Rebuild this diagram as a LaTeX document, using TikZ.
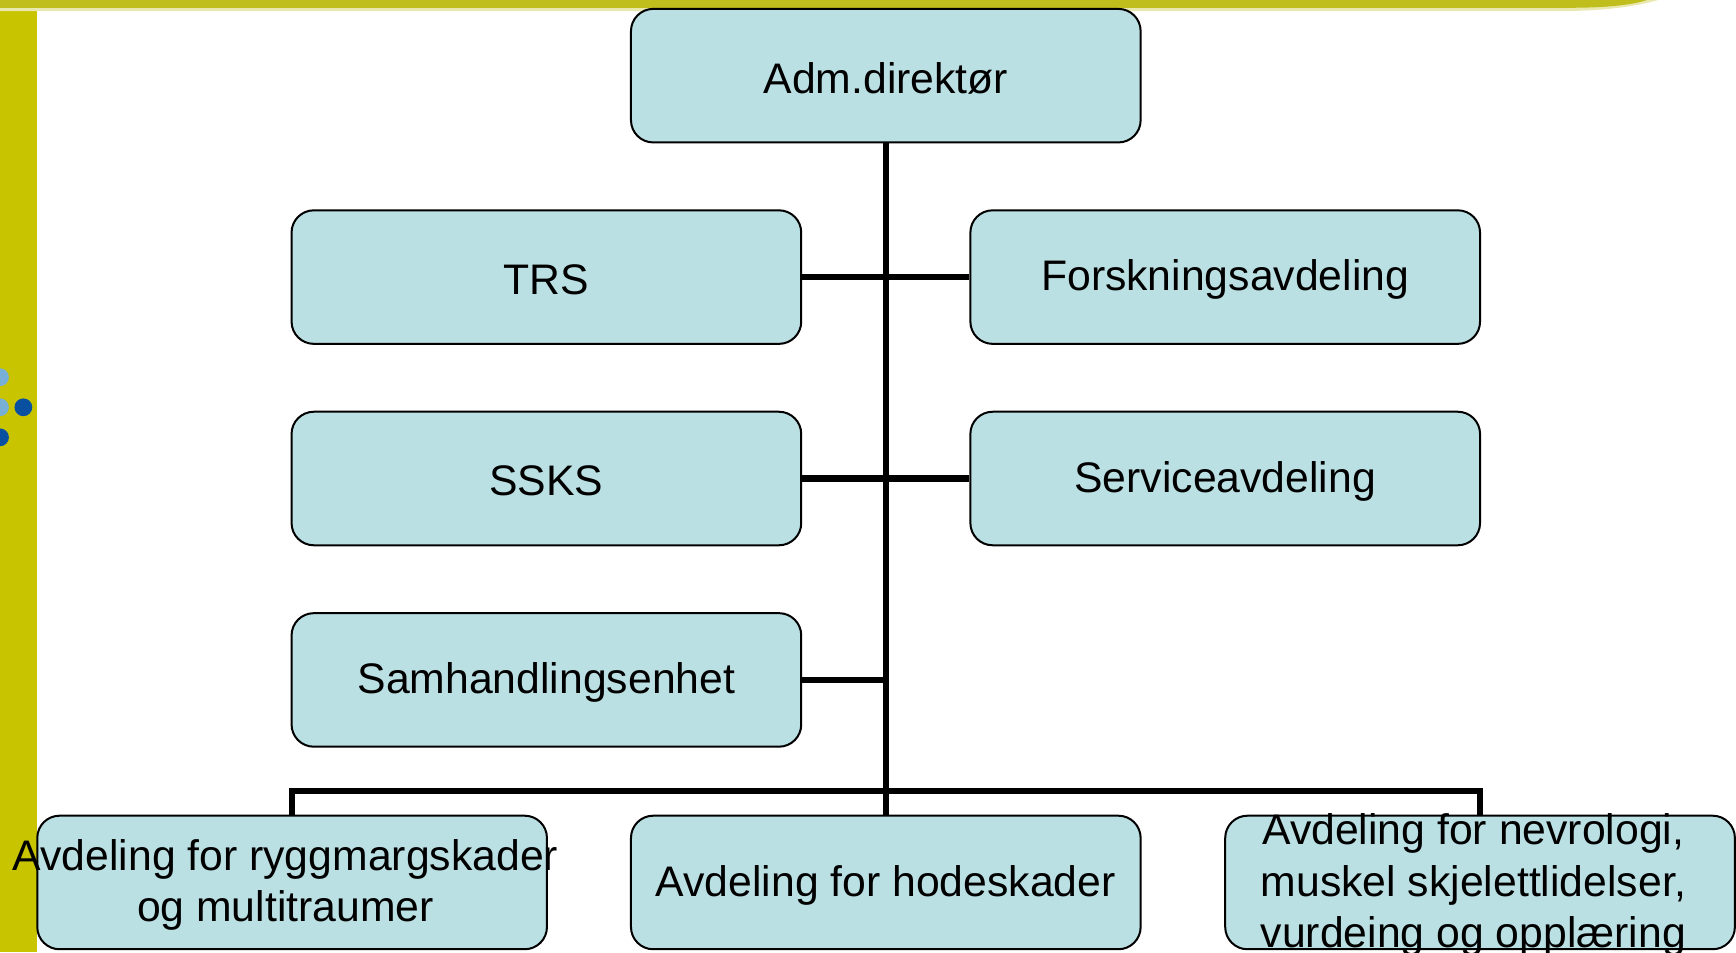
\documentclass[tikz,border=0pt]{standalone}
\usepackage{fontspec}
\setmainfont{Liberation Sans}
\usetikzlibrary{backgrounds}
\definecolor{boxfill}{RGB}{187,224,227}
\definecolor{leftbar}{RGB}{200,196,0}
\definecolor{topbar}{RGB}{192,190,28}
\definecolor{dotdark}{RGB}{10,80,160}
\definecolor{dotlight}{RGB}{120,175,215}
\begin{document}
\begin{tikzpicture}[x=0.5pt,y=-0.5pt,
  orgbox/.style={draw=black, line width=0.9pt, fill=boxfill, rounded corners=10pt,
    minimum width=229pt, minimum height=60pt, inner sep=0pt},
  orgtext/.style={font=\fontsize{19.2pt}{23pt}\selectfont, align=center, inner sep=0pt,
    text=black, yshift=-1.2pt},
  link/.style={draw=black, line width=2.8pt, line join=miter}]
\useasboundingbox (0,0) rectangle (1560,855.5);
% decorations of the slide
\fill[leftbar] (0,0) rectangle (33,855.5);
\fill[topbar!35!white] (0,0) -- (1490,0) .. controls (1470,6) and (1440,10) .. (1400,10) -- (0,10) -- cycle;
\fill[topbar] (0,0) -- (1480,0) .. controls (1465,5) and (1440,7) .. (1410,7) -- (0,7) -- cycle;
\fill[dotlight] (0,339) circle (8);
\fill[dotlight] (0,366) circle (8);
\fill[dotdark] (0,393) circle (8);
\fill[dotdark] (21,366) circle (8);
% boxes
\node[orgbox] (adm) at (796,68) {};
\node[orgbox] (trs) at (491,249) {};
\node[orgbox] (forsk) at (1101,249) {};
\node[orgbox] (ssks) at (491,430) {};
\node[orgbox] (serv) at (1101,430) {};
\node[orgbox] (samh) at (491,611) {};
\node[orgbox] (rygg) at (262.5,793) {};
\node[orgbox] (hode) at (796,793) {};
\node[orgbox] (nevro) at (1330,793) {};
% texts
\node[orgtext] (admT) at (adm) {Adm.direktør};
\node[orgtext] (trsT) at (trs) {TRS};
\node[orgtext] (forskT) at (forsk) {Forskningsavdeling};
\node[orgtext] (ssksT) at (ssks) {SSKS};
\node[orgtext] (servT) at (serv) {Serviceavdeling};
\node[orgtext] (samhT) at (samh) {Samhandlingsenhet};
\node[orgtext, xshift=-3pt] (ryggT) at (rygg) {Avdeling for ryggmargskader\\og multitraumer};
\node[orgtext] (hodeT) at (hode) {Avdeling for hodeskader};
\node[orgtext, xshift=-3pt] (nevroT) at (nevro) {Avdeling for nevrologi,\\muskel skjelettlidelser,\\vurdeing og opplæring};
% connectors
\coordinate (bus) at (796,711);
\begin{pgfonlayer}{background}
\draw[link] (adm.south) -- (hode.north);
\draw[link] (trs.east) -- (forsk.west);
\draw[link] (ssks.east) -- (serv.west);
\draw[link] (samh.east) -- (samh.east -| adm.south);
\draw[link] (rygg.north) |- (bus) -| (nevro.north);
\end{pgfonlayer}
\end{tikzpicture}
\end{document}
